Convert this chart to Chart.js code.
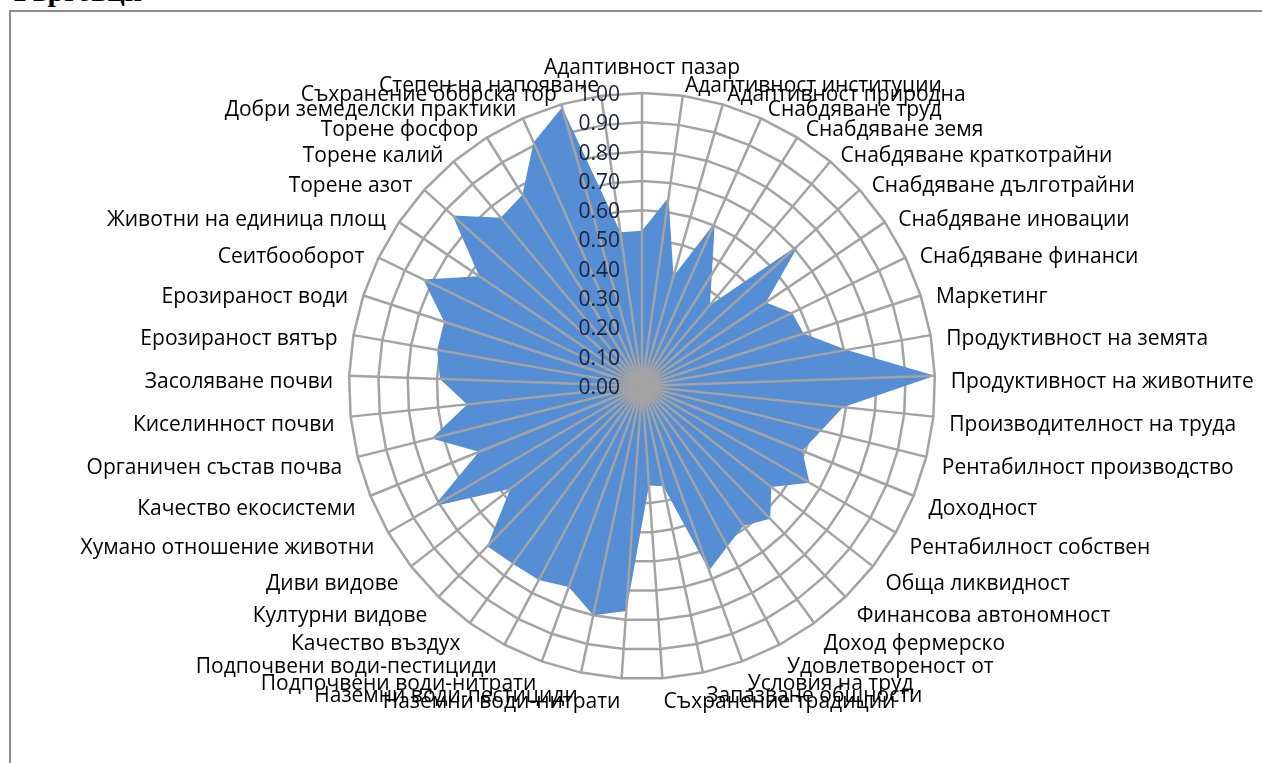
<!DOCTYPE html>
<html lang="bg">
<head>
<meta charset="utf-8">
<title>Търговци</title>
<script src="https://cdn.jsdelivr.net/npm/chart.js@4.4.1/dist/chart.umd.min.js"></script>
<style>
  html, body { margin: 0; padding: 0; background: #fff; overflow: hidden; }
  #wrap { position: relative; width: 1262px; height: 763px; overflow: hidden; }
  #title { position: absolute; left: 10px; top: -24px; font: bold 30px/30px "Liberation Serif", serif; color: #000; }
  #frame { position: absolute; left: 9px; top: 10px; width: 1300px; height: 800px; border: 2px solid #8c8c8c; box-sizing: border-box; }
  #chart { position: absolute; left: 0; top: 0; }
</style>
</head>
<body>
<div id="wrap">
  <div id="title">Търговци</div>
  <div id="frame"></div>
  <canvas id="chart" width="1262" height="763"></canvas>
</div>
<script>
'use strict';

// ─── Data ─────────────────────────────────────────────────────────
const categories = [
  'Адаптивност пазар', 'Адаптивност институции', 'Адаптивност природна',
  'Снабдяване труд', 'Снабдяване земя', 'Снабдяване краткотрайни',
  'Снабдяване дълготрайни', 'Снабдяване иновации', 'Снабдяване финанси',
  'Маркетинг', 'Продуктивност на земята', 'Продуктивност на животните',
  'Производителност на труда', 'Рентабилност производство', 'Доходност',
  'Рентабилност собствен', 'Обща ликвидност', 'Финансова автономност',
  'Доход фермерско', 'Удовлетвореност от', 'Условия на труд',
  'Запазване общности', 'Съхранение традиции', 'Наземни води-нитрати',
  'Наземни води-пестициди', 'Подпочвени води-нитрати', 'Подпочвени води-пестициди',
  'Качество въздух', 'Културни видове', 'Диви видове',
  'Хумано отношение животни', 'Качество екосистеми', 'Органичен състав почва',
  'Киселинност почви', 'Засоляване почви', 'Ерозираност вятър',
  'Ерозираност води', 'Сеитбооборот', 'Животни на единица площ',
  'Торене азот', 'Торене калий', 'Торене фосфор',
  'Добри земеделски практики', 'Съхранение оборска тор', 'Степен на напояване',
];

const values = [
  0.53, 0.65, 0.39, 0.61, 0.45, 0.36, 0.72, 0.51, 0.57,
  0.58, 0.71, 1.00, 0.69, 0.63, 0.59, 0.66, 0.56, 0.63,
  0.59, 0.62, 0.67, 0.35, 0.34, 0.77, 0.80, 0.73, 0.75,
  0.75, 0.76, 0.57, 0.82, 0.60, 0.74, 0.60, 0.69, 0.71,
  0.71, 0.83, 0.67, 0.87, 0.75, 0.77, 0.91, 0.99, 0.53,
];

const tickValues = [0, 0.1, 0.2, 0.3, 0.4, 0.5, 0.6, 0.7, 0.8, 0.9, 1.0];
const tickLabels = ['0.00', '0.10', '0.20', '0.30', '0.40', '0.50', '0.60', '0.70', '0.80', '0.90', '1.00'];

// ─── Look ─────────────────────────────────────────────────────────
const FONT = '"Open Sans", "Noto Sans", sans-serif';
const gridColor = '#a3a3a3';
const fillColor = '#558ed5';

// spokes sit on top of the filled area, like in the original
const spokesPlugin = {
  id: 'spokes',
  afterDatasetsDraw(chart) {
    const scale = chart.scales.r;
    const ctx = chart.ctx;
    ctx.save();
    ctx.strokeStyle = gridColor;
    ctx.lineWidth = 2.5;
    for (let i = 0; i < categories.length; i++) {
      const p = scale.getPointPositionForValue(i, 1);
      ctx.beginPath();
      ctx.moveTo(scale.xCenter, scale.yCenter);
      ctx.lineTo(p.x, p.y);
      ctx.stroke();
    }
    ctx.restore();
  },
};

// category labels + value ticks, placed the way the spreadsheet does it
const labelsPlugin = {
  id: 'labels',
  afterDraw(chart) {
    const scale = chart.scales.r;
    const ctx = chart.ctx;
    const R = scale.drawingArea;
    ctx.save();
    ctx.font = '21px ' + FONT;
    ctx.fillStyle = '#000';
    ctx.textBaseline = 'middle';
    categories.forEach((name, i) => {
      const a = scale.getIndexAngle(i);
      const s = Math.sin(a), c = Math.cos(a);
      if (Math.abs(s) < 0.01) {
        ctx.textAlign = 'center';
        ctx.fillText(name, scale.xCenter, scale.yCenter - R - 25);
        return;
      }
      ctx.textAlign = s > 0 ? 'left' : 'right';
      const x = scale.xCenter + (R + 16) * s;
      const y = scale.yCenter - (R + 17) * c + 7;
      ctx.fillText(name, x, y);
    });

    ctx.fillStyle = '#1a2138';
    ctx.textAlign = 'right';
    tickValues.forEach((v, k) => {
      const y = scale.yCenter - scale.getDistanceFromCenterForValue(v) + 2;
      ctx.fillText(tickLabels[k], scale.xCenter - 22, y);
    });
    ctx.restore();
  },
};

new Chart(document.getElementById('chart').getContext('2d'), {
  type: 'radar',
  data: {
    labels: categories,
    datasets: [{
      label: 'Търговци',
      data: values,
      backgroundColor: fillColor,
      borderWidth: 0,
      pointRadius: 0,
      fill: true,
      tension: 0,
    }],
  },
  options: {
    responsive: false,
    animation: false,
    layout: { padding: { left: 349, right: 327, top: 93, bottom: 84 } },
    plugins: { legend: { display: false }, tooltip: { enabled: false } },
    scales: {
      r: {
        min: 0,
        max: 1,
        ticks: { display: false, stepSize: 0.1 },
        grid: { color: gridColor, lineWidth: 2.5, circular: false },
        angleLines: { display: false },
        pointLabels: { display: false },
      },
    },
  },
  plugins: [spokesPlugin, labelsPlugin],
});
</script>
</body>
</html>
